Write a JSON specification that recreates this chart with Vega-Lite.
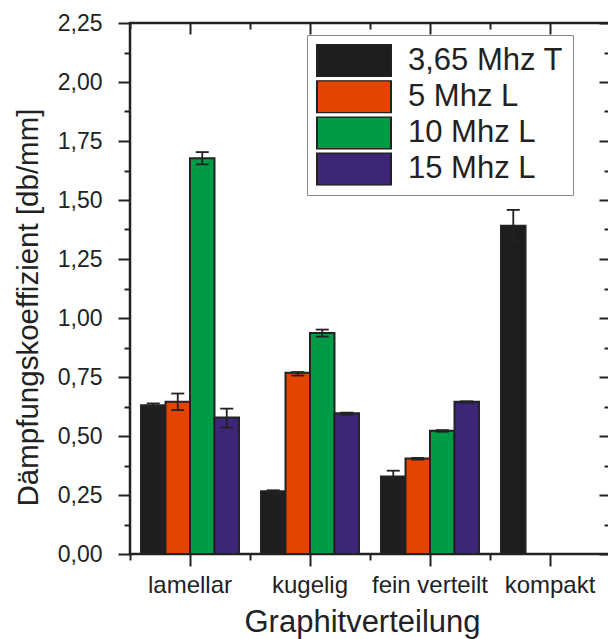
{
  "$schema": "https://vega.github.io/schema/vega-lite/v6.json",
  "width": 480,
  "height": 531,
  "autosize": {"type": "none"},
  "padding": {"left": 130, "top": 23, "right": 0, "bottom": 85},
  "background": "white",
  "config": {
    "view": {"stroke": "#222", "strokeWidth": 2.5},
    "font": "Liberation Sans",
    "axis": {
      "grid": false,
      "domain": false,
      "tickColor": "#222",
      "tickWidth": 2,
      "labelColor": "#222",
      "titleColor": "#222",
      "labelFont": "Liberation Sans",
      "titleFont": "Liberation Sans",
      "titleFontWeight": "normal"
    }
  },
  "data": {
    "values": [
      {"g": "lamellar", "s": "3,65 Mhz T", "v": 0.63, "lo": 0.622, "hi": 0.638},
      {"g": "lamellar", "s": "5 Mhz L", "v": 0.645, "lo": 0.61, "hi": 0.68},
      {"g": "lamellar", "s": "10 Mhz L", "v": 1.677, "lo": 1.651, "hi": 1.703},
      {"g": "lamellar", "s": "15 Mhz L", "v": 0.578, "lo": 0.536, "hi": 0.616},
      {"g": "kugelig", "s": "3,65 Mhz T", "v": 0.266, "lo": 0.262, "hi": 0.27},
      {"g": "kugelig", "s": "5 Mhz L", "v": 0.768, "lo": 0.756, "hi": 0.771},
      {"g": "kugelig", "s": "10 Mhz L", "v": 0.936, "lo": 0.921, "hi": 0.951},
      {"g": "kugelig", "s": "15 Mhz L", "v": 0.596, "lo": 0.59, "hi": 0.599},
      {"g": "fein verteilt", "s": "3,65 Mhz T", "v": 0.328, "lo": 0.302, "hi": 0.353},
      {"g": "fein verteilt", "s": "5 Mhz L", "v": 0.405, "lo": 0.4, "hi": 0.407},
      {"g": "fein verteilt", "s": "10 Mhz L", "v": 0.522, "lo": 0.518, "hi": 0.525},
      {"g": "fein verteilt", "s": "15 Mhz L", "v": 0.645, "lo": 0.641, "hi": 0.647},
      {"g": "kompakt", "s": "3,65 Mhz T", "v": 1.391, "lo": 1.324, "hi": 1.458}
    ]
  },
  "layer": [
    {
      "mark": {"type": "bar", "stroke": "#222", "strokeWidth": 2, "opacity": 1},
      "encoding": {
        "x": {
          "field": "g", "type": "nominal",
          "sort": ["lamellar", "kugelig", "fein verteilt", "kompakt"],
          "scale": {"paddingInner": 0, "paddingOuter": 0},
          "axis": {
            "orient": "bottom", "title": "Graphitverteilung", "labelAngle": 0,
            "labelFontSize": 24, "labelPadding": 7, "tickSize": 12,
            "titleFontSize": 31, "titlePadding": 10, "titleX": 232,
            "labelOverlap": false, "labelBound": false
          }
        },
        "xOffset": {
          "field": "s", "type": "nominal",
          "sort": ["3,65 Mhz T", "5 Mhz L", "10 Mhz L", "15 Mhz L"],
          "scale": {"paddingInner": 0, "paddingOuter": 0.45}
        },
        "y": {
          "field": "v", "type": "quantitative",
          "scale": {"domain": [0, 2.25], "nice": false, "zero": true},
          "axis": {
            "orient": "left", "title": "Dämpfungskoeffizient [db/mm]",
            "values": [0, 0.25, 0.5, 0.75, 1, 1.25, 1.5, 1.75, 2, 2.25],
            "labelExpr": "replace(format(datum.value, '.2f'), '.', ',')",
            "labelFontSize": 23, "labelPadding": 16, "tickSize": 12,
            "titleFontSize": 29.5, "titlePadding": 14, "titleY": 284
          }
        },
        "color": {
          "field": "s", "type": "nominal",
          "sort": ["3,65 Mhz T", "5 Mhz L", "10 Mhz L", "15 Mhz L"],
          "scale": {
            "domain": ["3,65 Mhz T", "5 Mhz L", "10 Mhz L", "15 Mhz L"],
            "range": ["#1e1e20", "#e54400", "#009b45", "#3d2677"]
          },
          "legend": {
            "orient": "none", "legendX": 177, "legendY": 12, "title": null,
            "symbolType": "M-1,-0.438L1,-0.438L1,0.438L-1,0.438Z",
            "symbolSize": 5476, "clipHeight": 33, "rowPadding": 3.2,
            "padding": 9, "labelFontSize": 31, "labelOffset": 16, "labelLimit": 400,
            "labelColor": "#222", "labelFont": "Liberation Sans",
            "strokeColor": "#888", "fillColor": "white",
            "symbolStrokeColor": "#222", "symbolStrokeWidth": 2, "symbolOpacity": 1
          }
        }
      }
    },
    {
      "mark": {"type": "rule", "color": "#222", "strokeWidth": 1.8},
      "encoding": {
        "x": {
          "field": "g", "type": "nominal",
          "sort": ["lamellar", "kugelig", "fein verteilt", "kompakt"],
          "scale": {"paddingInner": 0, "paddingOuter": 0},
          "axis": {"orient": "bottom", "title": null, "labels": false, "tickBand": "extent", "tickSize": 6}
        },
        "xOffset": {
          "field": "s", "type": "nominal",
          "sort": ["3,65 Mhz T", "5 Mhz L", "10 Mhz L", "15 Mhz L"],
          "scale": {"paddingInner": 0, "paddingOuter": 0.45}
        },
        "y": {
          "field": "lo", "type": "quantitative",
          "scale": {"domain": [0, 2.25], "nice": false, "zero": true},
          "axis": {
            "orient": "left", "title": null, "labels": false, "tickSize": 6,
            "values": [0.125, 0.375, 0.625, 0.875, 1.125, 1.375, 1.625, 1.875, 2.125]
          }
        },
        "y2": {"field": "hi"}
      }
    },
    {
      "mark": {"type": "tick", "size": 13, "thickness": 1.8, "color": "#222", "opacity": 1, "orient": "horizontal"},
      "encoding": {
        "x": {
          "field": "g", "type": "nominal",
          "sort": ["lamellar", "kugelig", "fein verteilt", "kompakt"],
          "scale": {"paddingInner": 0, "paddingOuter": 0},
          "axis": {"orient": "top", "title": null, "labels": false, "tickSize": -11}
        },
        "xOffset": {
          "field": "s", "type": "nominal",
          "sort": ["3,65 Mhz T", "5 Mhz L", "10 Mhz L", "15 Mhz L"],
          "scale": {"paddingInner": 0, "paddingOuter": 0.45}
        },
        "y": {
          "field": "hi", "type": "quantitative",
          "scale": {"domain": [0, 2.25], "nice": false, "zero": true},
          "axis": {
            "orient": "right", "title": null, "labels": false, "tickSize": -11,
            "values": [0, 0.25, 0.5, 0.75, 1, 1.25, 1.5, 1.75, 2, 2.25]
          }
        }
      }
    },
    {
      "mark": {"type": "tick", "size": 13, "thickness": 1.8, "color": "#222", "opacity": 1, "orient": "horizontal"},
      "encoding": {
        "x": {
          "field": "g", "type": "nominal",
          "sort": ["lamellar", "kugelig", "fein verteilt", "kompakt"],
          "scale": {"paddingInner": 0, "paddingOuter": 0},
          "axis": {"orient": "top", "title": null, "labels": false, "tickBand": "extent", "tickSize": -6}
        },
        "xOffset": {
          "field": "s", "type": "nominal",
          "sort": ["3,65 Mhz T", "5 Mhz L", "10 Mhz L", "15 Mhz L"],
          "scale": {"paddingInner": 0, "paddingOuter": 0.45}
        },
        "y": {
          "field": "lo", "type": "quantitative",
          "scale": {"domain": [0, 2.25], "nice": false, "zero": true},
          "axis": {
            "orient": "right", "title": null, "labels": false, "tickSize": -6,
            "values": [0.125, 0.375, 0.625, 0.875, 1.125, 1.375, 1.625, 1.875, 2.125]
          }
        }
      }
    }
  ],
  "resolve": {"axis": {"x": "independent", "y": "independent"}}
}
